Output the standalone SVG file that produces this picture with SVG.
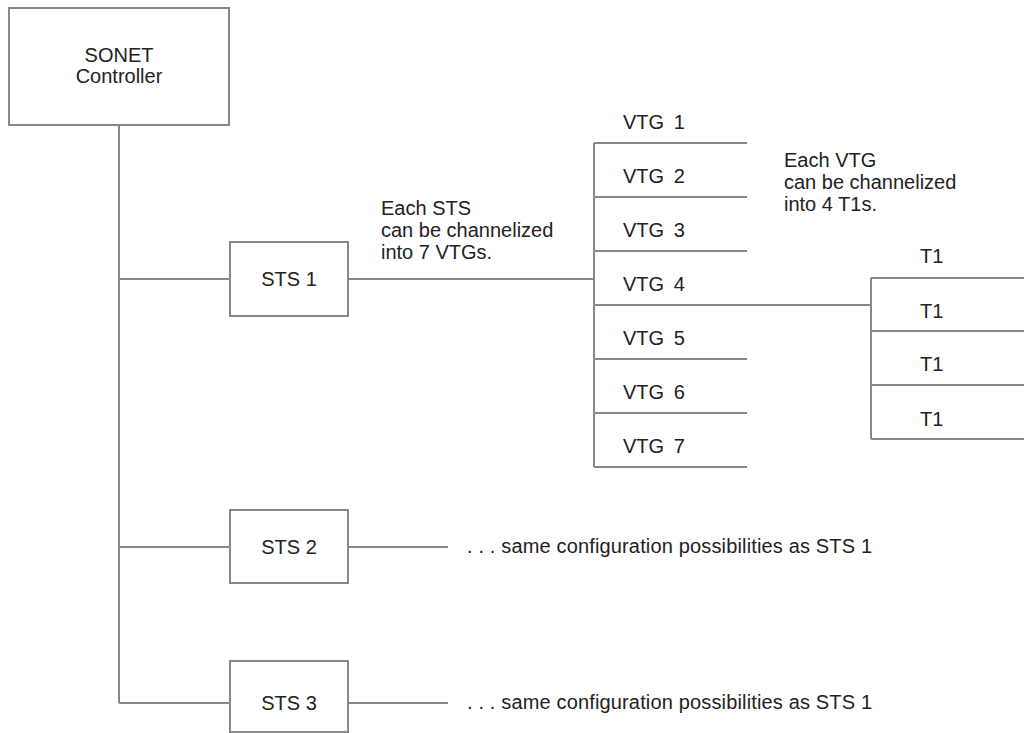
<svg xmlns="http://www.w3.org/2000/svg" width="1024" height="733" viewBox="0 0 1024 733">
<style>
text{font-family:"Liberation Sans",Arial,sans-serif;font-size:20px;fill:#222}
.box{fill:#fff;stroke:#888;stroke-width:2}
.c{text-anchor:middle}
line{stroke:#888;stroke-width:2}
.thin{stroke-width:1.6}
.vtg{word-spacing:4px}
</style>
<rect width="1024" height="733" fill="#fff"/>
<g id="connectors">
<line x1="119" y1="125" x2="119" y2="703"/>
<line x1="119" y1="279" x2="230" y2="279"/>
<line x1="119" y1="547" x2="230" y2="547"/>
<line x1="119" y1="703" x2="230" y2="703"/>
<line x1="348" y1="279" x2="594" y2="279"/>
<line x1="348" y1="547" x2="448" y2="547"/>
<line x1="348" y1="703" x2="448" y2="703"/>
<line x1="594" y1="143" x2="594" y2="467"/>
<line x1="594" y1="143" x2="747" y2="143"/>
<line x1="594" y1="197" x2="747" y2="197"/>
<line x1="594" y1="251" x2="747" y2="251"/>
<line x1="594" y1="305" x2="871" y2="305"/>
<line x1="594" y1="359" x2="747" y2="359"/>
<line x1="594" y1="413" x2="747" y2="413"/>
<line x1="594" y1="467" x2="747" y2="467"/>
<line x1="871" y1="278" x2="871" y2="439"/>
<line x1="871" y1="278" x2="1024" y2="278"/>
<line x1="871" y1="331" x2="1024" y2="331"/>
<line x1="871" y1="385" x2="1024" y2="385"/>
<line x1="871" y1="439" x2="1024" y2="439"/>
</g>
<g id="sonet">
<rect class="box" x="9" y="8" width="220" height="117"/>
<text class="c" x="119" y="62">SONET</text>
<text class="c" x="119" y="83">Controller</text>
</g>
<g id="sts1">
<rect class="box" x="230" y="242" width="118" height="74"/>
<text class="c" x="289" y="286">STS 1</text>
</g>
<g id="sts2">
<rect class="box" x="230" y="510" width="118" height="73"/>
<text class="c" x="289" y="554">STS 2</text>
</g>
<g id="sts3">
<rect class="box" x="230" y="661" width="118" height="71"/>
<text class="c" x="289" y="710">STS 3</text>
</g>
<g id="note-sts">
<text x="381" y="215">Each STS</text>
<text x="381" y="237">can be channelized</text>
<text x="381" y="259">into 7 VTGs.</text>
</g>
<g id="note-vtg">
<text x="784" y="167">Each VTG</text>
<text x="784" y="189">can be channelized</text>
<text x="784" y="211">into 4 T1s.</text>
</g>
<g id="vtgs">
<text class="vtg" x="623" y="129">VTG 1</text>
<text class="vtg" x="623" y="183">VTG 2</text>
<text class="vtg" x="623" y="237">VTG 3</text>
<text class="vtg" x="623" y="291">VTG 4</text>
<text class="vtg" x="623" y="345">VTG 5</text>
<text class="vtg" x="623" y="399">VTG 6</text>
<text class="vtg" x="623" y="453">VTG 7</text>
</g>
<g id="t1s">
<text x="920" y="263">T1</text>
<text x="920" y="318">T1</text>
<text x="920" y="371">T1</text>
<text x="920" y="426">T1</text>
</g>
<g id="same2">
<text x="467" y="553" textLength="405" lengthAdjust="spacing">. . . same configuration possibilities as STS 1</text>
</g>
<g id="same3">
<text x="467" y="709" textLength="405" lengthAdjust="spacing">. . . same configuration possibilities as STS 1</text>
</g>
</svg>
